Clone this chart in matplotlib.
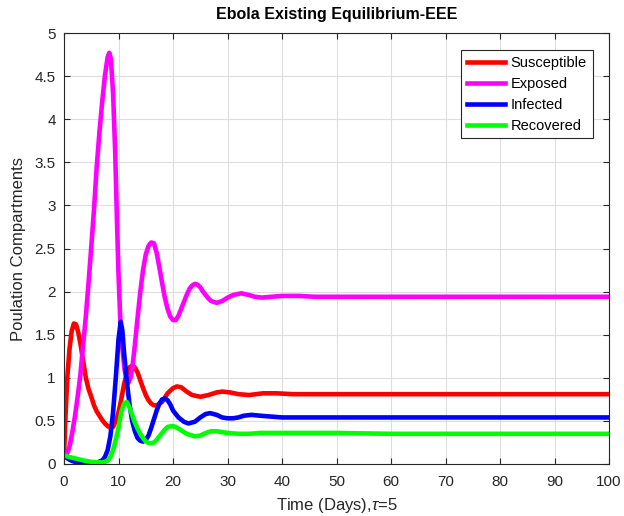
import matplotlib
matplotlib.use("Agg")
import matplotlib.pyplot as plt

plt.rcParams['font.family'] = ['Liberation Sans', 'DejaVu Sans']
plt.rcParams['mathtext.fontset'] = 'custom'
plt.rcParams['mathtext.it'] = 'Liberation Sans:italic'
plt.rcParams['mathtext.rm'] = 'Liberation Sans'

# Susceptible
t_s = [0, 0.3, 0.6, 1.0, 1.4, 1.8, 2.2, 2.6, 3.0, 3.5, 4.0, 4.5, 5.0, 5.5, 6, 6.5, 7, 7.5, 8,
       8.5, 9, 9.5, 10, 10.5, 11, 11.5, 12, 12.5, 13, 13.5, 14, 14.5, 15, 15.5, 16, 16.5, 17,
       18, 19, 20, 20.7, 21.5, 22.5, 23.5, 25, 26.5, 28, 29, 30.5, 32, 34, 36.5, 39, 42, 46,
       50, 60, 70, 80, 90, 100]
S = [0.1, 0.6, 1.0, 1.33, 1.54, 1.63, 1.62, 1.53, 1.4, 1.2, 1.0, 0.87, 0.78, 0.68, 0.61,
     0.56, 0.51, 0.47, 0.44, 0.42, 0.43, 0.5, 0.6, 0.75, 0.92, 1.05, 1.12, 1.14, 1.12, 1.06,
     0.97, 0.88, 0.8, 0.74, 0.7, 0.68, 0.68, 0.72, 0.82, 0.88, 0.9, 0.89, 0.84, 0.8, 0.78,
     0.8, 0.83, 0.84, 0.83, 0.81, 0.8, 0.82, 0.82, 0.81, 0.81, 0.81, 0.81, 0.81, 0.81, 0.81,
     0.81]

# Exposed
t_e = [0, 0.5, 1, 1.5, 2, 2.5, 3, 3.5, 4, 4.5, 5, 5.5, 6, 6.5, 7, 7.5, 8, 8.3, 8.6, 9, 9.4,
       9.7, 10.0, 10.3, 10.7, 11.1, 11.5, 11.8, 12.2, 12.6, 13, 13.5, 14, 14.5, 15, 15.5, 16,
       16.5, 17, 17.5, 18, 18.5, 19, 19.5, 20, 20.5, 21, 21.5, 22, 22.5, 23, 23.5, 24, 24.5,
       25, 25.5, 26, 26.5, 27, 28, 29, 30, 31, 32.5, 34, 35, 36.3, 38, 40, 43, 46, 50, 60,
       70, 80, 90, 100]
E = [0.1, 0.11, 0.2, 0.36, 0.55, 0.78, 1.03, 1.38, 1.71, 2.1, 2.52, 2.95, 3.45, 3.85, 4.2,
     4.5, 4.72, 4.77, 4.7, 4.3, 3.6, 2.85, 2.2, 1.71, 1.35, 1.1, 0.97, 0.94, 1.0, 1.15,
     1.38, 1.7, 2.0, 2.25, 2.43, 2.53, 2.57, 2.56, 2.45, 2.28, 2.1, 1.93, 1.8, 1.71, 1.67,
     1.67, 1.72, 1.8, 1.88, 1.96, 2.03, 2.07, 2.09, 2.08, 2.05, 2.0, 1.96, 1.92, 1.89, 1.87,
     1.89, 1.93, 1.96, 1.98, 1.96, 1.94, 1.93, 1.94, 1.95, 1.95, 1.94, 1.94, 1.94, 1.94,
     1.94, 1.94, 1.94]

# Infected
t_i = [0, 0.5, 1, 1.5, 2, 3, 4, 5, 6, 7, 7.5, 8, 8.5, 9, 9.5, 10, 10.4, 10.7, 11, 11.5, 12,
       12.5, 13, 13.5, 14, 14.5, 15, 15.5, 16, 16.5, 17, 17.5, 18, 18.5, 19, 19.5, 20, 21,
       22, 22.8, 24, 25, 26, 26.8, 28, 29, 30, 31, 32, 33, 34.4, 36, 38, 40, 45, 50, 60, 70,
       80, 90, 100]
I = [0.1, 0.07, 0.05, 0.035, 0.025, 0.015, 0.01, 0.01, 0.015, 0.04, 0.08, 0.16, 0.32, 0.6,
     1.0, 1.45, 1.65, 1.55, 1.3, 0.97, 0.7, 0.5, 0.38, 0.3, 0.27, 0.26, 0.28, 0.33, 0.42,
     0.52, 0.62, 0.7, 0.75, 0.76, 0.74, 0.69, 0.62, 0.54, 0.49, 0.47, 0.49, 0.54, 0.58,
     0.59, 0.57, 0.54, 0.53, 0.53, 0.54, 0.56, 0.57, 0.56, 0.55, 0.54, 0.54, 0.54, 0.54,
     0.54, 0.54, 0.54, 0.54]

# Recovered
t_r = [0, 1, 2, 3, 4, 5, 6, 7, 7.5, 8, 8.5, 9, 9.5, 10, 10.5, 11, 11.5, 12, 12.5, 13, 13.5,
       14, 14.5, 15, 15.5, 16, 16.5, 17, 17.5, 18, 18.5, 19, 19.8, 20.5, 21.5, 22.5, 24, 25,
       26, 27, 28, 29, 30, 32, 34, 36, 40, 50, 60, 70, 80, 90, 100]
R = [0.1, 0.08, 0.065, 0.05, 0.035, 0.025, 0.02, 0.02, 0.025, 0.04, 0.08, 0.16, 0.28, 0.42,
     0.6, 0.7, 0.72, 0.66, 0.57, 0.48, 0.41, 0.35, 0.3, 0.26, 0.245, 0.24, 0.25, 0.28, 0.32,
     0.36, 0.4, 0.43, 0.44, 0.43, 0.39, 0.35, 0.32, 0.33, 0.36, 0.38, 0.38, 0.37, 0.36,
     0.35, 0.35, 0.36, 0.36, 0.36, 0.35, 0.35, 0.35, 0.35, 0.35]

x_ticks = list(range(0, 101, 10))
y_ticks = [0, 0.5, 1, 1.5, 2, 2.5, 3, 3.5, 4, 4.5, 5]
y_labels = ['0', '0.5', '1', '1.5', '2', '2.5', '3', '3.5', '4', '4.5', '5']

axis_grey = '#262626'

fig = plt.figure(figsize=(6.24, 5.16), dpi=100)
ax = fig.add_axes([0.1026, 0.1008, 0.8734, 0.8352])

lw = 3.3
ax.plot(t_s, S, color='red', lw=lw, label='Susceptible')
ax.plot(t_e, E, color='magenta', lw=lw, label='Exposed')
ax.plot(t_i, I, color='blue', lw=lw, label='Infected')
ax.plot(t_r, R, color='#00ff00', lw=lw, label='Recovered')

ax.set_xlim(0, 100)
ax.set_ylim(0, 5)
ax.set_xticks(x_ticks)
ax.set_yticks(y_ticks)
ax.set_yticklabels(y_labels)
ax.grid(True, color='#dedede', lw=0.8)
ax.set_axisbelow(True)
ax.tick_params(direction='in', length=4, width=0.8, top=True, right=True,
               labelsize=11, colors=axis_grey)
ax.tick_params(axis='x', pad=8)
ax.tick_params(axis='y', pad=6)
for sp in ax.spines.values():
    sp.set_color(axis_grey)
    sp.set_linewidth(0.8)

ax.set_xlabel(r'Time (Days),$\tau$=5', fontsize=12, color=axis_grey, labelpad=5)
ax.set_ylabel('Poulation Compartments', fontsize=12, color=axis_grey, labelpad=6)
ax.set_title('Ebola Existing Equilibrium-EEE', fontsize=11.5, fontweight='bold', pad=10)

leg = ax.legend(loc='upper right', bbox_to_anchor=(0.97, 0.961), fontsize=10.5,
                fancybox=False, framealpha=1, edgecolor=axis_grey, handlelength=2.6,
                handletextpad=0.4, borderpad=0.4, labelspacing=0.48, borderaxespad=0)
leg.get_frame().set_linewidth(0.8)

fig.savefig('out.png', dpi=100)
